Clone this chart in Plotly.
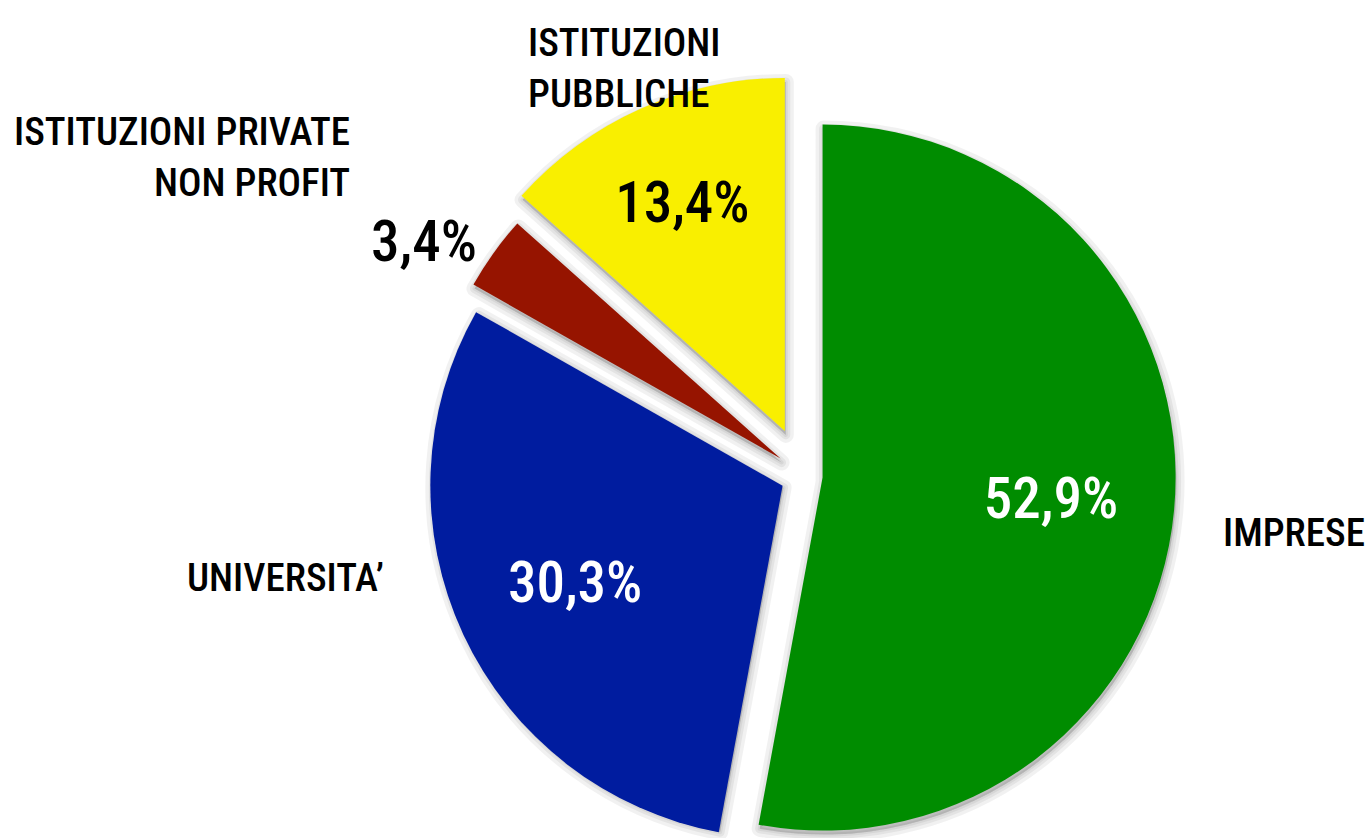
import math
import plotly.graph_objects as go

# data
categories = ["IMPRESE", "UNIVERSITA’", "ISTITUZIONI PRIVATE<br>NON PROFIT", "ISTITUZIONI<br>PUBBLICHE"]
shares = [52.9, 30.3, 3.4, 13.4]

# styling
colors = ["#008c00", "#001c9f", "#961400", "#f9ef00"]
text_colors = ["white", "white", "black", "black"]
text_positions = ["inside", "inside", "outside", "inside"]
pulls = [0.05, 0.07, 0.085, 0.14]   # how far each slice is pulled out, fraction of radius

W, H = 1369, 838
CX, CY, R = 805, 476, 353   # pie centre / radius in pixels
FONT = "Roboto Condensed, Liberation Sans Narrow, DejaVu Sans Condensed, sans-serif"


def slice_domain(i, dx=0, dy=0):
    # plotly shrinks the whole pie when `pull` is used, so every slice gets its
    # own trace and the pull is done by moving that trace's domain instead
    total = sum(shares)
    mid = (sum(shares[:i]) + shares[i] / 2) / total * 2 * math.pi
    cx = CX + pulls[i] * R * math.sin(mid) + dx
    cy = CY - pulls[i] * R * math.cos(mid) + dy
    y0 = max(0, 1 - (cy + R) / H)
    y1 = min(1, 1 - (cy - R) / H)
    return dict(x=[(cx - R) / W, (cx + R) / W], y=[y0, y1])


def only(i, value, other):
    return [value if j == i else other for j in range(len(shares))]


def base_pie(i, **kw):
    return go.Pie(values=shares, labels=categories, sort=False,
                  direction='clockwise', rotation=0,
                  hoverinfo='skip', showlegend=False, **kw)


fig = go.Figure()

# soft drop shadow: a few translucent copies with growing outlines
for i in range(len(shares)):
    for width in [16, 9, 4]:
        fig.add_trace(base_pie(
            i, domain=slice_domain(i, dx=1, dy=4), textinfo='none',
            marker=dict(
                colors=only(i, 'rgba(0,0,0,0.055)', 'rgba(0,0,0,0)'),
                line=dict(color=only(i, 'rgba(0,0,0,0.055)', 'rgba(0,0,0,0)'),
                          width=only(i, width, 0)),
            ),
        ))

# the slices themselves
for i in range(len(shares)):
    fig.add_trace(base_pie(
        i, domain=slice_domain(i), textinfo='none',
        marker=dict(colors=only(i, colors[i], 'rgba(0,0,0,0)'), line=dict(width=0)),
    ))

# percentages: an invisible ring on top of each slice, the hole pushes
# plotly's inside text further out like in the original
for i in range(len(shares)):
    fig.add_trace(base_pie(
        i, domain=slice_domain(i), hole=0.3,
        marker=dict(colors=['rgba(0,0,0,0)'] * len(shares), line=dict(width=0)),
        texttemplate=only(i, '%{value:.1f}%', ''),
        textposition=only(i, text_positions[i], 'none'),
        insidetextorientation='horizontal',
        insidetextfont=dict(family=FONT, size=57, weight=500, color=text_colors[i]),
        outsidetextfont=dict(family=FONT, size=57, weight=500, color='black'),
    ))

label_font = dict(family=FONT, size=39, weight=500, color='black')
fig.update_layout(
    width=W, height=H,
    margin=dict(l=0, r=0, t=0, b=0),
    paper_bgcolor='white', plot_bgcolor='white',
    separators=',.',
    showlegend=False,
    annotations=[
        dict(text=categories[0], x=1221 / W, y=1 - 533 / H, xanchor='left', yanchor='middle'),
        dict(text=categories[1], x=386 / W, y=1 - 578 / H, xanchor='right', yanchor='middle'),
        dict(text=categories[2], x=352 / W, y=1 - 157 / H, xanchor='right', yanchor='middle', align='right'),
        dict(text=categories[3], x=526 / W, y=1 - 69 / H, xanchor='left', yanchor='middle', align='left'),
    ],
)
fig.update_annotations(xref='paper', yref='paper', showarrow=False, font=label_font)

# drop the browser's default 8px body margin so the figure sits at the page corner
fig.write_html("out.html", config={'displayModeBar': False},
               post_script="document.body.style.margin = '0';")
